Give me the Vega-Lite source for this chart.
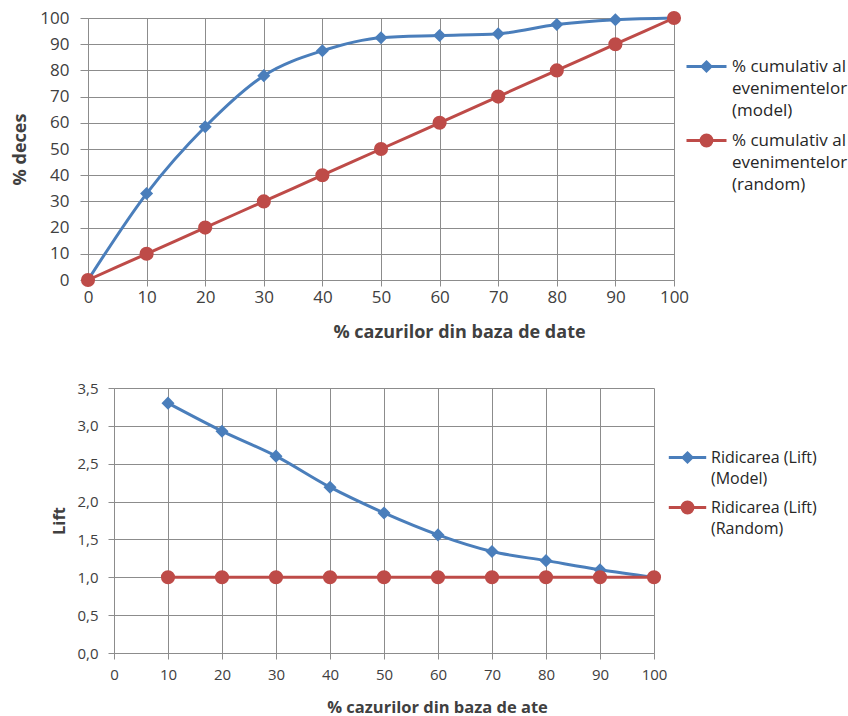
{
  "$schema": "https://vega.github.io/schema/vega-lite/v6.json",
  "background": "white",
  "padding": {"left": 11, "top": 9, "right": 0, "bottom": 0},
  "config": {
    "font": "Open Sans",
    "view": {"stroke": null},
    "axis": {
      "labelFont": "Open Sans",
      "labelFontSize": 17,
      "labelColor": "#404040",
      "labelFlush": false,
      "titleFont": "Open Sans",
      "titleFontSize": 18,
      "titleFontWeight": "bold",
      "titleColor": "#404040",
      "gridColor": "#8c8c8c",
      "gridOpacity": 1,
      "gridWidth": 1,
      "domainColor": "#8c8c8c",
      "tickColor": "#8c8c8c",
      "tickSize": 6
    },
    "legend": {
      "labelFont": "Open Sans",
      "labelFontSize": 17,
      "labelColor": "#262626",
      "padding": 0
    }
  },
  "spacing": 40,
  "resolve": {
    "scale": {"color": "independent", "shape": "independent", "size": "independent"},
    "legend": {"color": "independent"}
  },
  "vconcat": [
    {
      "width": 586,
      "height": 262,
      "data": {
        "values": [
          {"cazuri": 0, "deces": 0, "serie": "% cumulativ al evenimentelor (model)"},
          {"cazuri": 10, "deces": 33, "serie": "% cumulativ al evenimentelor (model)"},
          {"cazuri": 20, "deces": 58.5, "serie": "% cumulativ al evenimentelor (model)"},
          {"cazuri": 30, "deces": 78, "serie": "% cumulativ al evenimentelor (model)"},
          {"cazuri": 40, "deces": 87.5, "serie": "% cumulativ al evenimentelor (model)"},
          {"cazuri": 50, "deces": 92.5, "serie": "% cumulativ al evenimentelor (model)"},
          {"cazuri": 60, "deces": 93.3, "serie": "% cumulativ al evenimentelor (model)"},
          {"cazuri": 70, "deces": 94, "serie": "% cumulativ al evenimentelor (model)"},
          {"cazuri": 80, "deces": 97.5, "serie": "% cumulativ al evenimentelor (model)"},
          {"cazuri": 90, "deces": 99.3, "serie": "% cumulativ al evenimentelor (model)"},
          {"cazuri": 100, "deces": 100, "serie": "% cumulativ al evenimentelor (model)"},
          {"cazuri": 0, "deces": 0, "serie": "% cumulativ al evenimentelor (random)"},
          {"cazuri": 10, "deces": 10, "serie": "% cumulativ al evenimentelor (random)"},
          {"cazuri": 20, "deces": 20, "serie": "% cumulativ al evenimentelor (random)"},
          {"cazuri": 30, "deces": 30, "serie": "% cumulativ al evenimentelor (random)"},
          {"cazuri": 40, "deces": 40, "serie": "% cumulativ al evenimentelor (random)"},
          {"cazuri": 50, "deces": 50, "serie": "% cumulativ al evenimentelor (random)"},
          {"cazuri": 60, "deces": 60, "serie": "% cumulativ al evenimentelor (random)"},
          {"cazuri": 70, "deces": 70, "serie": "% cumulativ al evenimentelor (random)"},
          {"cazuri": 80, "deces": 80, "serie": "% cumulativ al evenimentelor (random)"},
          {"cazuri": 90, "deces": 90, "serie": "% cumulativ al evenimentelor (random)"},
          {"cazuri": 100, "deces": 100, "serie": "% cumulativ al evenimentelor (random)"}
        ]
      },
      "encoding": {
        "x": {
          "field": "cazuri",
          "type": "quantitative",
          "scale": {"domain": [0, 100], "nice": false},
          "axis": {
            "title": "% cazurilor din baza de date",
            "values": [0, 10, 20, 30, 40, 50, 60, 70, 80, 90, 100],
            "labelPadding": 3,
            "titlePadding": 18,
            "titleX": 371
          }
        },
        "y": {
          "field": "deces",
          "type": "quantitative",
          "scale": {"domain": [0, 100], "nice": false},
          "axis": {
            "title": "% deces",
            "values": [0, 10, 20, 30, 40, 50, 60, 70, 80, 90, 100],
            "tickSize": 8,
            "labelPadding": 11,
            "titlePadding": 10
          }
        },
        "color": {
          "field": "serie",
          "type": "nominal",
          "scale": {
            "domain": ["% cumulativ al evenimentelor (model)", "% cumulativ al evenimentelor (random)"],
            "range": ["#4a7ebb", "#be4b48"]
          },
          "legend": {
            "title": null,
            "orient": "none",
            "legendX": 597,
            "legendY": 27,
            "symbolSize": 1600,
            "symbolStrokeWidth": 3,
            "rowPadding": -6,
            "labelOffset": 4,
            "labelExpr": "split(replace(replace(datum.label, ' al ', ' al|'), 'r (', 'r|('), '|')",
            "encode": {
              "symbols": {
                "update": {
                  "shape": {"signal": "datum.value == '% cumulativ al evenimentelor (model)' ? 'M-1,0H1M0,-0.22L0.22,0L0,0.22L-0.22,0Z' : 'M-1,0H1M-0.27,0A0.27,0.27 0 1,1 0.27,0A0.27,0.27 0 1,1 -0.27,0Z'"},
                  "fill": {"signal": "datum.value == '% cumulativ al evenimentelor (model)' ? '#4a7ebb' : '#be4b48'"},
                  "stroke": {"signal": "datum.value == '% cumulativ al evenimentelor (model)' ? '#4a7ebb' : '#be4b48'"},
                  "fillOpacity": {"value": 1},
                  "opacity": {"value": 1}
                }
              },
              "labels": {
                "update": {"lineHeight": {"value": 22}}
              }
            }
          }
        }
      },
      "layer": [
        {"mark": {"type": "line", "interpolate": "monotone", "strokeWidth": 3}},
        {
          "mark": {"type": "point", "filled": true, "opacity": 1},
          "encoding": {
            "shape": {
              "field": "serie",
              "type": "nominal",
              "scale": {"range": ["diamond", "circle"]},
              "legend": null
            },
            "size": {
              "field": "serie",
              "type": "nominal",
              "scale": {"range": [170, 200]},
              "legend": null
            }
          }
        }
      ]
    },
    {
      "width": 566,
      "height": 265,
      "data": {
        "values": [
          {"cazuri": 10, "lift": 3.3, "serie": "Ridicarea (Lift) (Model)"},
          {"cazuri": 20, "lift": 2.93, "serie": "Ridicarea (Lift) (Model)"},
          {"cazuri": 30, "lift": 2.6, "serie": "Ridicarea (Lift) (Model)"},
          {"cazuri": 40, "lift": 2.19, "serie": "Ridicarea (Lift) (Model)"},
          {"cazuri": 50, "lift": 1.85, "serie": "Ridicarea (Lift) (Model)"},
          {"cazuri": 60, "lift": 1.56, "serie": "Ridicarea (Lift) (Model)"},
          {"cazuri": 70, "lift": 1.34, "serie": "Ridicarea (Lift) (Model)"},
          {"cazuri": 80, "lift": 1.22, "serie": "Ridicarea (Lift) (Model)"},
          {"cazuri": 90, "lift": 1.1, "serie": "Ridicarea (Lift) (Model)"},
          {"cazuri": 100, "lift": 1.0, "serie": "Ridicarea (Lift) (Model)"},
          {"cazuri": 10, "lift": 1.0, "serie": "Ridicarea (Lift) (Random)"},
          {"cazuri": 20, "lift": 1.0, "serie": "Ridicarea (Lift) (Random)"},
          {"cazuri": 30, "lift": 1.0, "serie": "Ridicarea (Lift) (Random)"},
          {"cazuri": 40, "lift": 1.0, "serie": "Ridicarea (Lift) (Random)"},
          {"cazuri": 50, "lift": 1.0, "serie": "Ridicarea (Lift) (Random)"},
          {"cazuri": 60, "lift": 1.0, "serie": "Ridicarea (Lift) (Random)"},
          {"cazuri": 70, "lift": 1.0, "serie": "Ridicarea (Lift) (Random)"},
          {"cazuri": 80, "lift": 1.0, "serie": "Ridicarea (Lift) (Random)"},
          {"cazuri": 90, "lift": 1.0, "serie": "Ridicarea (Lift) (Random)"},
          {"cazuri": 100, "lift": 1.0, "serie": "Ridicarea (Lift) (Random)"}
        ]
      },
      "encoding": {
        "x": {
          "field": "cazuri",
          "type": "quantitative",
          "scale": {"domain": [0, 100], "nice": false, "range": [26, 566]},
          "axis": {
            "title": "% cazurilor din baza de ate",
            "values": [0, 10, 20, 30, 40, 50, 60, 70, 80, 90, 100],
            "labelFontSize": 15,
            "titleFontSize": 16.5,
            "labelPadding": 8,
            "titlePadding": 17,
            "titleX": 349
          }
        },
        "y": {
          "field": "lift",
          "type": "quantitative",
          "scale": {"domain": [0, 3.5], "nice": false},
          "axis": {
            "title": "Lift",
            "values": [0, 0.5, 1, 1.5, 2, 2.5, 3, 3.5],
            "labelExpr": "replace(format(datum.value, '.1f'), '.', ',')",
            "labelFontSize": 15,
            "titleFontSize": 16.5,
            "offset": -26,
            "labelPadding": 10,
            "titlePadding": 9
          }
        },
        "color": {
          "field": "serie",
          "type": "nominal",
          "scale": {
            "domain": ["Ridicarea (Lift) (Model)", "Ridicarea (Lift) (Random)"],
            "range": ["#4a7ebb", "#be4b48"]
          },
          "legend": {
            "title": null,
            "orient": "none",
            "legendX": 579,
            "legendY": 49,
            "symbolSize": 1400,
            "symbolStrokeWidth": 3,
            "rowPadding": -2,
            "labelOffset": 3,
            "labelFontSize": 16,
            "labelExpr": "split(replace(datum.label, ') (', ')|('), '|')",
            "encode": {
              "symbols": {
                "update": {
                  "shape": {"signal": "datum.value == 'Ridicarea (Lift) (Model)' ? 'M-1,0H1M0,-0.24L0.24,0L0,0.24L-0.24,0Z' : 'M-1,0H1M-0.29,0A0.29,0.29 0 1,1 0.29,0A0.29,0.29 0 1,1 -0.29,0Z'"},
                  "fill": {"signal": "datum.value == 'Ridicarea (Lift) (Model)' ? '#4a7ebb' : '#be4b48'"},
                  "stroke": {"signal": "datum.value == 'Ridicarea (Lift) (Model)' ? '#4a7ebb' : '#be4b48'"},
                  "fillOpacity": {"value": 1},
                  "opacity": {"value": 1}
                }
              },
              "labels": {
                "update": {"lineHeight": {"value": 21}}
              }
            }
          }
        }
      },
      "layer": [
        {"mark": {"type": "line", "interpolate": "monotone", "strokeWidth": 3}},
        {
          "mark": {"type": "point", "filled": true, "opacity": 1},
          "encoding": {
            "shape": {
              "field": "serie",
              "type": "nominal",
              "scale": {"range": ["diamond", "circle"]},
              "legend": null
            },
            "size": {
              "field": "serie",
              "type": "nominal",
              "scale": {"range": [170, 200]},
              "legend": null
            }
          }
        }
      ]
    }
  ]
}
